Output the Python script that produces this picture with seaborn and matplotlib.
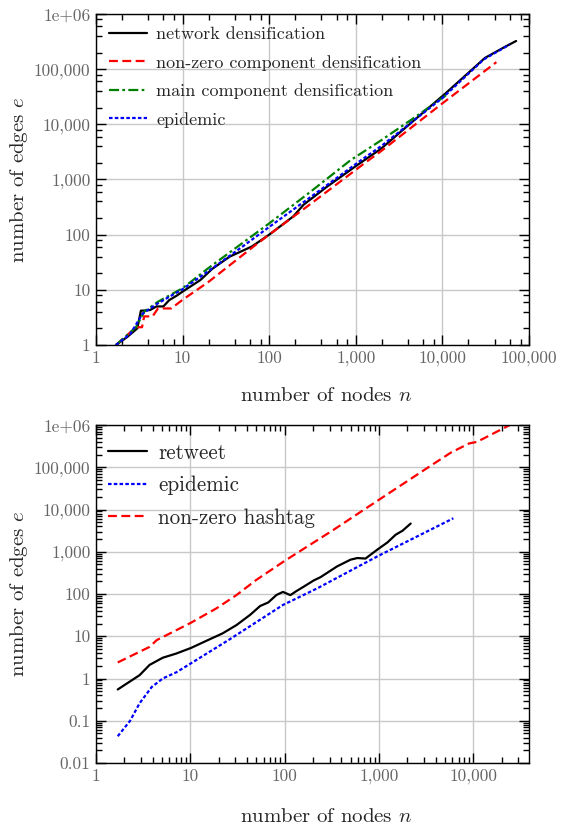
import numpy as np
import pandas as pd
import matplotlib
matplotlib.use("Agg")
import matplotlib.pyplot as plt
import matplotlib.ticker as mticker
import seaborn as sns

# ---------------- data: top panel ----------------
net_x = [1.7, 2.3, 3.0, 3.3, 3.5, 4.2, 5.0, 6.0, 7.0, 8.5, 10, 16, 22, 35, 63, 100, 190, 250, 470,
         1000, 1950, 4000, 11000, 31000, 53000, 71000]
net_y = [1, 1.4, 2.0, 4.2, 4.2, 4.3, 5.0, 5.0, 6.5, 7.8, 9.3, 15, 24, 40, 61, 100, 215, 350, 750,
         1750, 3600, 9500, 37000, 160000, 255000, 324000]

nz_x = [1.7, 2.9, 3.4, 3.6, 4.5, 5.2, 7.4, 10, 20, 66, 100, 300, 1250, 1950, 10000, 42000]
nz_y = [1, 2.1, 2.1, 3.3, 3.3, 4.6, 4.6, 6.6, 14, 61, 100, 360, 1950, 3250, 24000, 134000]

main_x = [1.7, 2.9, 3.6, 5.2, 10, 20, 50, 100, 300, 870, 1950, 5000, 11700]
main_y = [1, 2.1, 4.0, 6.1, 10.7, 25, 72, 160, 600, 2240, 5100, 14000, 36000]

epi_x = [1.7, 2.5, 3.45, 5, 10, 20, 50, 100, 300, 1150, 1950, 10000, 30000, 60000]
epi_y = [1, 1.6, 3.7, 5.5, 10.3, 22, 62, 138, 480, 2240, 4000, 30000, 150000, 280000]

# ---------------- data: bottom panel ----------------
rt_x = [1.7, 2.9, 3.7, 5.1, 7.1, 10.2, 14.8, 22, 31, 43, 55, 67, 82, 96, 115, 134, 160, 204, 240,
        360, 500, 590, 720, 960, 1230, 1500, 1780, 2170]
rt_y = [0.55, 1.2, 2.1, 3.1, 3.9, 5.3, 7.8, 11.7, 18.5, 32, 52, 63, 95, 112, 94, 118, 150, 210, 250,
        450, 650, 710, 690, 1120, 1660, 2520, 3150, 4650]

ep2_x = [1.7, 2.3, 2.9, 3.9, 5.1, 7.1, 10.2, 26, 96, 223, 960, 6150]
ep2_y = [0.043, 0.10, 0.26, 0.63, 1.0, 1.4, 2.3, 8.4, 55, 137, 775, 6200]

ht_x = [1.7, 3.7, 4.4, 6.6, 10.2, 19, 31, 50, 98, 330, 1000, 2000, 3500, 5750, 9000, 11000, 24000, 28000]
ht_y = [2.4, 5.6, 8.1, 12.8, 21, 46, 95, 215, 590, 3300, 17000, 47000, 107000, 220000, 365000, 400000,
        980000, 1250000]

top_series = [
    ("network densification", net_x, net_y),
    ("non-zero component densification", nz_x, nz_y),
    ("main component densification", main_x, main_y),
    ("epidemic", epi_x, epi_y),
]
bot_series = [
    ("retweet", rt_x, rt_y),
    ("epidemic", ep2_x, ep2_y),
    ("non-zero hashtag", ht_x, ht_y),
]

top_df = pd.concat([pd.DataFrame({"n": x, "e": y, "series": s}) for s, x, y in top_series], ignore_index=True)
bot_df = pd.concat([pd.DataFrame({"n": x, "e": y, "series": s}) for s, x, y in bot_series], ignore_index=True)

# ---------------- style ----------------
sns.set_theme(style="ticks")
plt.rcParams["font.family"] = ["cmr10", "DejaVu Serif"]
plt.rcParams["mathtext.fontset"] = "cm"
plt.rcParams["axes.formatter.use_mathtext"] = True
plt.rcParams["axes.unicode_minus"] = False

styles = {
    "network densification": dict(color="#000000", ls="-"),
    "non-zero component densification": dict(color="#ff0000", ls=(0, (4, 2))),
    "main component densification": dict(color="#008000", ls=(0, (4.5, 1.5, 1.2, 1.5))),
    "epidemic": dict(color="#0000ff", ls=(0, (1.6, 1.0))),
    "retweet": dict(color="#000000", ls="-"),
    "non-zero hashtag": dict(color="#ff0000", ls=(0, (4, 2))),
}

W, H = 562, 827
fig = plt.figure(figsize=(W / 100, H / 100), dpi=100)
ax1 = fig.add_axes([96 / W, 1 - 345 / H, (529 - 96) / W, (345 - 14) / H])
ax2 = fig.add_axes([96 / W, 1 - 763 / H, (529 - 96) / W, (763 - 425) / H])


def fmt(v, pos):
    if v >= 1e6 - 1:
        return "1e+06"
    if v >= 1:
        return f"{int(round(v)):,}"
    return f"{v:g}"


def draw(ax, df, series, subs, xlim, ylim, legsize, labelspacing, bpad, borderpad, hlen,
         anchor_y, xlpad):
    for name, _, _ in series:
        st = styles[name]
        sns.lineplot(data=df[df["series"] == name], x="n", y="e", ax=ax, sort=False,
                     estimator=None, color=st["color"], linestyle=st["ls"], linewidth=1.6,
                     label=name)
    ax.set_xscale("log")
    ax.set_yscale("log")
    ax.set_xlim(*xlim)
    ax.set_ylim(*ylim)
    ax.xaxis.set_major_locator(mticker.LogLocator(base=10, numticks=20))
    ax.yaxis.set_major_locator(mticker.LogLocator(base=10, numticks=20))
    ax.xaxis.set_minor_locator(mticker.LogLocator(base=10, subs=subs, numticks=40))
    ax.yaxis.set_minor_locator(mticker.LogLocator(base=10, subs=subs, numticks=40))
    ax.xaxis.set_major_formatter(mticker.FuncFormatter(fmt))
    ax.yaxis.set_major_formatter(mticker.FuncFormatter(fmt))
    ax.xaxis.set_minor_formatter(mticker.NullFormatter())
    ax.yaxis.set_minor_formatter(mticker.NullFormatter())
    ax.tick_params(which="both", direction="in", top=True, right=True, colors="black",
                   labelcolor="#666666", labelsize=12.5, width=1.0)
    ax.tick_params(which="major", length=7, pad=4)
    ax.tick_params(which="minor", length=4)
    ax.grid(True, which="major", color="#c8c8c8", linewidth=1.0)
    ax.set_axisbelow(True)
    for sp in ax.spines.values():
        sp.set_color("black")
        sp.set_linewidth(1.0)
    ax.set_xlabel("number of nodes $n$", fontsize=15, labelpad=xlpad)
    ax.xaxis.label.set_x(0.531)
    ax.set_ylabel("number of edges $e$", fontsize=15, labelpad=3)
    ax.legend(loc="upper left", bbox_to_anchor=(0, anchor_y), frameon=False, fontsize=legsize,
              handlelength=hlen, labelspacing=labelspacing, borderaxespad=bpad,
              borderpad=borderpad, handletextpad=0.55)


draw(ax1, top_df, top_series, [2, 4, 6, 8], (1, 1e5), (1, 1e6), 13.0, 0.7, 0.3, 0.4, 2.1,
     1.0, 15)
draw(ax2, bot_df, bot_series, list(range(2, 10)), (1, 3.9e4), (0.01, 1e6), 15.2, 0.62, 0.25, 0.3,
     1.85, 0.981, 17)

fig.savefig("out.png", dpi=100)
